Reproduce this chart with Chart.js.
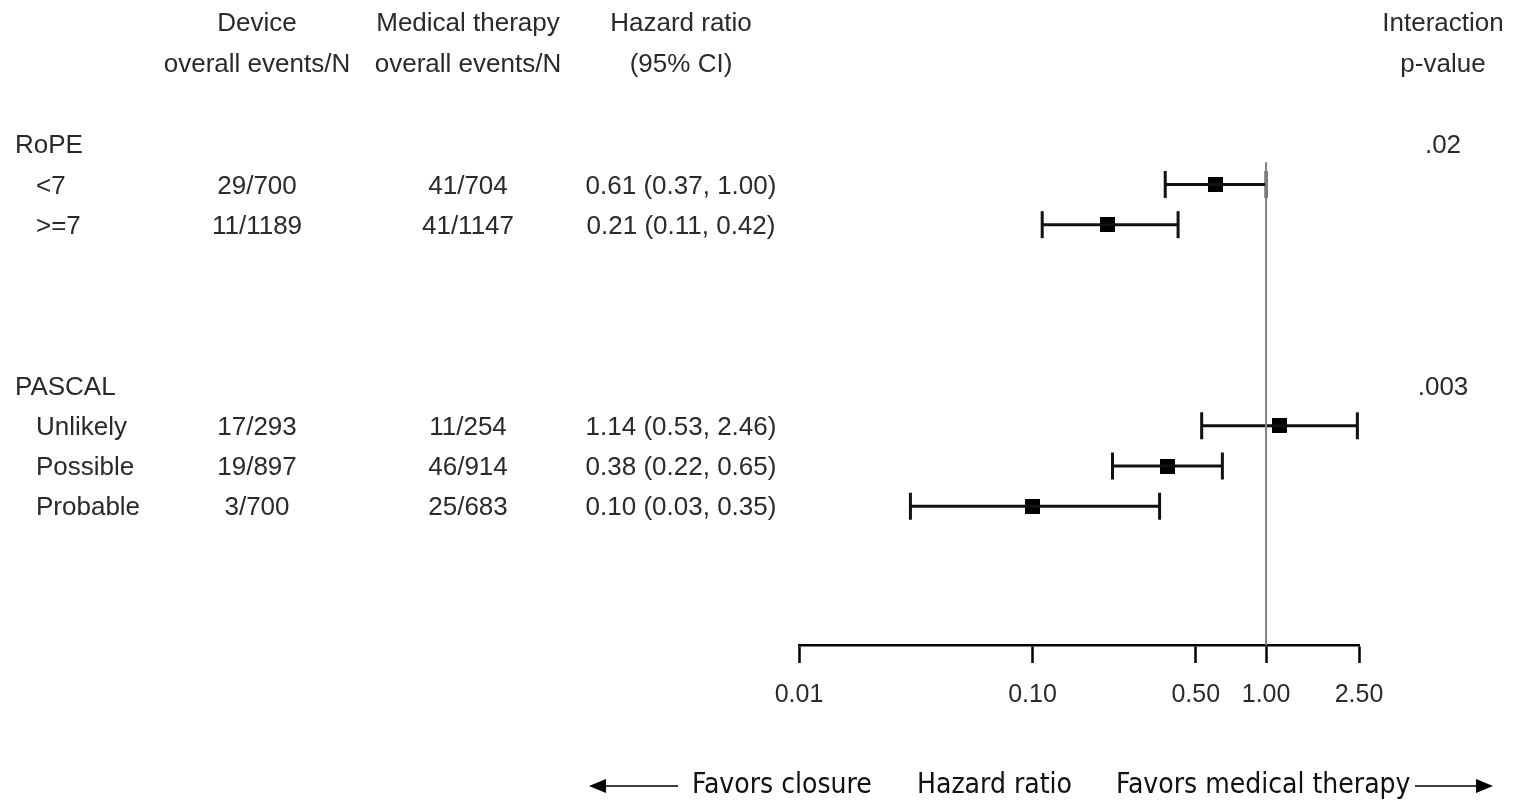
<!DOCTYPE html>
<html>
<head>
<meta charset="utf-8">
<script src="https://cdn.jsdelivr.net/npm/chart.js@4"></script>
<style>
  html, body { margin: 0; padding: 0; background: #fff; }
  canvas { display: block; }
</style>
</head>
<body>
<canvas id="forest" width="1513" height="802"></canvas>
<script>
// rows of the forest plot (group headers have no estimate)
const rowLabels = ['RoPE', '<7', '>=7', 'PASCAL', 'Unlikely', 'Possible', 'Probable'];
const rowPos = [0, 1, 2, 6, 7, 8, 9];
const isGroup = [true, false, false, true, false, false, false];
const deviceEvents = ['', '29/700', '11/1189', '', '17/293', '19/897', '3/700'];
const medicalEvents = ['', '41/704', '41/1147', '', '11/254', '46/914', '25/683'];
const hazardRatio = [null, 0.61, 0.21, null, 1.14, 0.38, 0.10];
const ciLow = [null, 0.37, 0.11, null, 0.53, 0.22, 0.03];
const ciHigh = [null, 1.00, 0.42, null, 2.46, 0.65, 0.35];
const pInteraction = ['.02', '', '', '.003', '', '', ''];
const xTicks = [0.01, 0.10, 0.50, 1.00, 2.50];

const TEXT = '#2a2a2a';
const FONT = '26px "Liberation Sans", Arial, sans-serif';

// black box marker
const box = document.createElement('canvas');
box.width = 15; box.height = 15;
const bctx = box.getContext('2d');
bctx.fillStyle = '#000';
bctx.fillRect(0, 0, 15, 15);

const datasets = [];

// reference line at HR = 1
datasets.push({
  type: 'line',
  data: [{x: 1, y: 0.45}, {x: 1, y: 12.45}],
  borderColor: '#808080',
  borderWidth: 2,
  pointRadius: 0
});

// confidence intervals, caps drawn as rotated 'line' points
hazardRatio.forEach((hr, i) => {
  if (hr === null) return;
  datasets.push({
    type: 'line',
    data: [{x: ciLow[i], y: rowPos[i]}, {x: ciHigh[i], y: rowPos[i]}],
    borderColor: '#111',
    borderWidth: 3,
    pointStyle: 'line',
    rotation: 90,
    pointRadius: 13.5,
    pointBorderWidth: 3,
    pointBorderColor: '#111'
  });
});

// point estimates
datasets.push({
  type: 'scatter',
  data: hazardRatio.map((hr, i) => hr === null ? null : {x: hr, y: rowPos[i]}).filter(d => d),
  pointStyle: box,
  pointRadius: 8
});

// table text, header and arrows
const tablePlugin = {
  id: 'table',
  afterDraw(chart) {
    const ctx = chart.ctx;
    const y = chart.scales.y;
    const colDevice = 257, colMedical = 468, colHR = 681, colP = 1443;

    ctx.save();
    ctx.fillStyle = TEXT;
    ctx.font = FONT;
    ctx.textBaseline = 'middle';
    ctx.textAlign = 'center';

    // column headers
    ctx.fillText('Device', colDevice, 24);
    ctx.fillText('overall events/N', colDevice, 65);
    ctx.fillText('Medical therapy', colMedical, 24);
    ctx.fillText('overall events/N', colMedical, 65);
    ctx.fillText('Hazard ratio', colHR, 24);
    ctx.fillText('(95% CI)', colHR, 65);
    ctx.fillText('Interaction', colP, 24);
    ctx.fillText('p-value', colP, 65);

    rowLabels.forEach((lab, i) => {
      const py = y.getPixelForValue(rowPos[i]) + 2;
      ctx.textAlign = 'left';
      ctx.fillText(lab, isGroup[i] ? 15 : 36, py);
      ctx.textAlign = 'center';
      ctx.fillText(deviceEvents[i], colDevice, py);
      ctx.fillText(medicalEvents[i], colMedical, py);
      if (hazardRatio[i] !== null) {
        const txt = hazardRatio[i].toFixed(2) + ' (' + ciLow[i].toFixed(2) + ', ' + ciHigh[i].toFixed(2) + ')';
        ctx.fillText(txt, colHR, py);
      }
      ctx.fillText(pInteraction[i], colP, py);
    });

    // bottom caption with arrows
    const cy = 786;
    ctx.font = '28px "Liberation Sans Narrow", "DejaVu Sans Condensed", sans-serif';
    ctx.fillStyle = '#111';
    ctx.textAlign = 'left';
    ctx.fillText('Favors closure', 692, cy);
    ctx.fillText('Hazard ratio', 917, cy);
    ctx.fillText('Favors medical therapy', 1116, cy);

    ctx.strokeStyle = '#000';
    ctx.lineWidth = 1.5;
    ctx.beginPath();
    ctx.moveTo(598, cy); ctx.lineTo(678, cy);
    ctx.moveTo(1415, cy); ctx.lineTo(1484, cy);
    ctx.stroke();
    ctx.fillStyle = '#000';
    ctx.beginPath();
    ctx.moveTo(589, cy); ctx.lineTo(606, cy - 7); ctx.lineTo(606, cy + 7); ctx.closePath();
    ctx.fill();
    ctx.beginPath();
    ctx.moveTo(1493, cy); ctx.lineTo(1476, cy - 7); ctx.lineTo(1476, cy + 7); ctx.closePath();
    ctx.fill();
    ctx.restore();
  }
};

new Chart(document.getElementById('forest'), {
  type: 'scatter',
  data: { datasets: datasets },
  options: {
    responsive: false,
    animation: false,
    devicePixelRatio: 1,
    layout: { padding: { top: 104, left: 799, right: 154, bottom: 0 } },
    plugins: {
      legend: { display: false },
      tooltip: { enabled: false }
    },
    scales: {
      x: {
        type: 'logarithmic',
        min: 0.01,
        max: 2.5,
        afterBuildTicks: (s) => { s.ticks = xTicks.map(v => ({value: v})); },
        afterFit: (s) => { s.height = 802 - 645; },
        ticks: {
          color: TEXT,
          font: { family: '"Liberation Sans", Arial, sans-serif', size: 25 },
          padding: 17,
          maxRotation: 0,
          autoSkip: false,
          callback: (v) => Number(v).toFixed(2)
        },
        grid: {
          drawOnChartArea: false,
          drawTicks: true,
          tickLength: 18,
          tickWidth: 2.5,
          tickColor: '#000'
        },
        border: { display: true, color: '#000', width: 2.5 }
      },
      y: {
        type: 'linear',
        reverse: true,
        min: -1,
        max: 12.45,
        display: false
      }
    }
  },
  plugins: [tablePlugin]
});
</script>
</body>
</html>
